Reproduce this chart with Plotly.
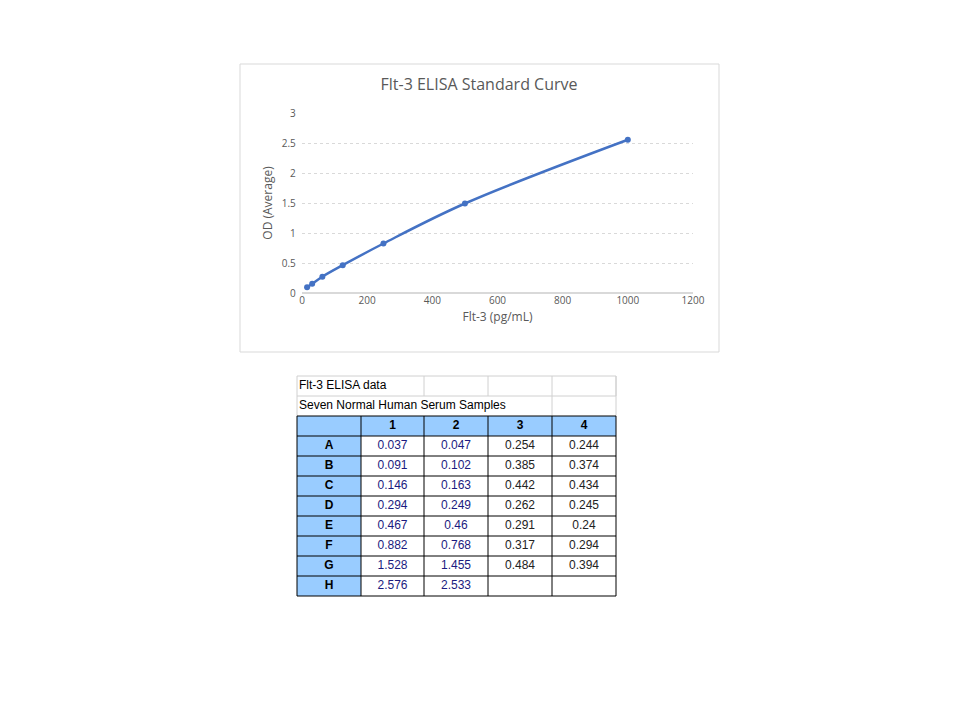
import plotly.graph_objects as go

conc = [15.625, 31.25, 62.5, 125, 250, 500, 1000]
od_avg = [0.0965, 0.1545, 0.2715, 0.4635, 0.825, 1.4915, 2.5545]

row_labels = ["A", "B", "C", "D", "E", "F", "G", "H"]
col_labels = ["1", "2", "3", "4"]
col1 = ["0.037", "0.091", "0.146", "0.294", "0.467", "0.882", "1.528", "2.576"]
col2 = ["0.047", "0.102", "0.163", "0.249", "0.46", "0.768", "1.455", "2.533"]
col3 = ["0.254", "0.385", "0.442", "0.262", "0.291", "0.317", "0.484", ""]
col4 = ["0.244", "0.374", "0.434", "0.245", "0.24", "0.294", "0.394", ""]
table_title = "Flt-3 ELISA data"
table_sub = "Seven Normal Human Serum Samples"

W, H = 960, 720
fig = go.Figure()
fig.add_trace(go.Scatter(x=conc, y=od_avg, mode="lines+markers", line_shape="spline",
                         line=dict(color="#4472C4", width=2.5),
                         marker=dict(color="#4472C4", size=6)))

shapes = []
def rect(x0, y0, x1, y1, **kw):
    shapes.append(dict(type="rect", xref="x2", yref="y2", x0=x0, x1=x1, y0=y0, y1=y1, **kw))
def line(x0, y0, x1, y1, c="black"):
    shapes.append(dict(type="line", xref="x2", yref="y2", x0=x0, y0=y0, x1=x1, y1=y1,
                       line=dict(color=c, width=1)))

rect(232, 56, 711, 344, line=dict(color="#d9d9d9", width=1), layer="below")

xe = [289, 353, 416, 480, 544, 608]
ye = [368 + 20 * i for i in range(12)]
grey = "#d0d0d0"
rect(xe[0], ye[2], xe[-1], ye[3], fillcolor="#99ccff", line=dict(width=0), layer="below")
rect(xe[0], ye[3], xe[1], ye[11], fillcolor="#99ccff", line=dict(width=0), layer="below")
for y in ye[0:2]:
    line(xe[0], y, xe[-1], y, grey)
for x in xe[2:]:
    line(x, ye[0], x, ye[1], grey)
line(xe[4], ye[1], xe[4], ye[2], grey)
line(xe[-1], ye[0], xe[-1], ye[2], grey)
line(xe[0], ye[0], xe[0], ye[2], grey)
for y in ye[2:]:
    line(xe[0], y, xe[-1], y)
for x in xe:
    line(x, ye[2], x, ye[-1])

tx, ty, tt, tc = [], [], [], []
def txt(s, x, y, color="black"):
    tx.append(x); ty.append(y); tt.append(s); tc.append(color)

for j, c in enumerate(col_labels):
    txt(f"<b>{c}</b>", (xe[j + 1] + xe[j + 2]) / 2, ye[2] + 10)
cols = [col1, col2, col3, col4]
colors = ["#1a1a80", "#1a1a80", "#222222", "#222222"]
for i, r in enumerate(row_labels):
    yc = ye[3 + i] + 10
    txt(f"<b>{r}</b>", (xe[0] + xe[1]) / 2, yc)
    for j in range(4):
        txt(cols[j][i], (xe[j + 1] + xe[j + 2]) / 2, yc, colors[j])

fig.add_trace(go.Scatter(x=tx, y=ty, text=tt, mode="text", xaxis="x2", yaxis="y2",
                         textfont=dict(size=12, color=tc, family="Arial"), hoverinfo="skip"))
fig.add_trace(go.Scatter(x=[291, 291, 471], y=[ye[0] + 10, ye[1] + 10, 78],
                         text=[table_title, table_sub, "Flt-3 ELISA Standard Curve"],
                         mode="text", textposition=["middle right", "middle right", "middle center"],
                         xaxis="x2", yaxis="y2", hoverinfo="skip",
                         textfont=dict(size=[12, 12, 16], color=["black", "black", "#595959"],
                                       family=["Arial", "Arial", "Open Sans"])))

axfont = dict(size=10, color="#595959", family="Open Sans")
fig.update_layout(
    width=W, height=H, margin=dict(l=0, r=0, t=0, b=0, autoexpand=False),
    paper_bgcolor="white", plot_bgcolor="rgba(0,0,0,0)", showlegend=False,
    shapes=shapes,
    xaxis=dict(domain=[294 / W, 685 / W], range=[0, 1200], dtick=200, showgrid=False,
               zeroline=False, showline=False, ticks="", tickfont=axfont, automargin=False,
               title=dict(text="Flt-3 (pg/mL)", font=dict(size=12, color="#595959", family="Open Sans"), standoff=6)),
    yaxis=dict(domain=[1 - 285 / H, 1 - 105 / H], range=[0, 3], dtick=0.5, showgrid=True,
               gridcolor="#d9d9d9", griddash="dot", zeroline=True, zerolinecolor="#d9d9d9",
               ticks="", tickfont=axfont, ticksuffix="  ", automargin=False,
               title=dict(text="OD (Average)", font=dict(size=12, color="#595959", family="Open Sans"), standoff=6)),
    xaxis2=dict(domain=[0, 1], range=[0, W], visible=False, anchor="y2", automargin=False),
    yaxis2=dict(domain=[0, 1], range=[H, 0], visible=False, anchor="x2", automargin=False),
)
fig.write_html("out.html")
